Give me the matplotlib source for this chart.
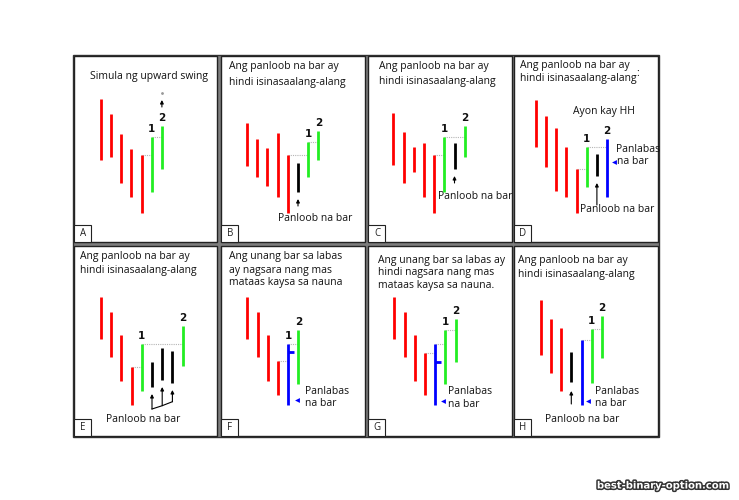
import matplotlib.pyplot as plt
from matplotlib.patches import Rectangle
import matplotlib.patheffects as pe

W, H = 739, 500
FONT = "Open Sans"

# ---- data: bar highs / lows per panel (price units), bar kinds ----
letters = ["A", "B", "C", "D", "E", "F", "G", "H"]

a_high = [143, 128, 108, 93, 87, 105, 116]
a_low = [82, 85, 59, 45, 29, 50, 73]
a_kind = "rrrrrgg"

b_high = [119, 103, 94, 109, 87, 79, 100, 111]
b_low = [76, 65, 56, 45, 29, 50, 65, 82]
b_kind = "rrrrrkgg"

c_high = [129, 110, 95, 99, 87, 105, 99, 116]
c_low = [77, 59, 70, 45, 29, 50, 73, 85]
c_kind = "rrrrrgkg"

d_high = [142, 126, 114, 95, 73, 95, 88, 103]
d_low = [95, 75, 51, 45, 29, 55, 66, 45]
d_kind = "rrrrrgkb"

e_high = [139, 124, 101, 69, 92, 74, 88, 85, 110]
e_low = [97, 79, 55, 31, 45, 49, 56, 53, 70]
e_kind = "rrrrgkkkg"

f_high = [139, 124, 101, 75, 92, 106]
f_low = [97, 79, 55, 41, 31, 52]
f_kind = "rrrrbg"

g_high = [139, 124, 101, 83, 92, 106, 117]
g_low = [97, 79, 55, 41, 31, 52, 74]
g_kind = "rrrrbgg"

h_high = [136, 117, 108, 84, 96, 107, 120]
h_low = [81, 63, 45, 54, 31, 53, 78]
h_kind = "rrrkbgg"

HIGHS = [a_high, b_high, c_high, d_high, e_high, f_high, g_high, h_high]
LOWS = [a_low, b_low, c_low, d_low, e_low, f_low, g_low, h_low]
KINDS = [a_kind, b_kind, c_kind, d_kind, e_kind, f_kind, g_kind, h_kind]

# closing ticks of the outside (blue) bar: panel -> (bar, close)
closes = {5: (4, 84), 6: (4, 74)}
# dotted reference lines: from bar a's high to bar b
dotted = [[(4, 5), (5, 6)], [(4, 6), (6, 7)], [(4, 5), (5, 7)], [(4, 5), (5, 7)],
          [(3, 4), (4, 8)], [(3, 4), (4, 5)], [(3, 4), (4, 5), (5, 6)], [(4, 5), (5, 6)]]
# bars that carry the "1" and "2" labels
swing_labels = [(5, 6), (6, 7), (5, 7), (5, 7), (4, 8), (4, 5), (5, 6), (5, 6)]
# arrows under inside bars: (bar, gap below low, length) in price units
inside_arrows = {1: [(5, 7, 7)], 2: [(6, 7, 7)], 3: [(6, 7, 22)], 7: [(3, 9, 13)]}

COLORS = {"r": "#ff0000", "g": "#22ee22", "k": "#000000", "b": "#0000ff"}

# ---- layout ----
PANEL_LEFTS = [74, 221, 368, 514]
PANEL_RIGHTS = [217, 365, 512, 658]
ROW_TOPS = [56, 246]
ROW_BOTTOMS = [242, 436]
SLOT_PX = 10.2
FIRST_BAR_PX = [26.7, 26, 25.3, 21.7, 27, 26.3, 26.3, 26.7]

titles = [
    (149, 76.7, "Simula ng upward swing", "center"),
    (229, 67, "Ang panloob na bar ay", "left"),
    (229, 82, "hindi isinasaalang-alang", "left"),
    (379, 67, "Ang panloob na bar ay", "left"),
    (379, 81.7, "hindi isinasaalang-alang", "left"),
    (520, 65.7, "Ang panloob na bar ay", "left"),
    (520, 78.3, "hindi isinasaalang-alang", "left"),
    (637.7, 73, ":", "center"),
    (80, 256.7, "Ang panloob na bar ay", "left"),
    (80, 270, "hindi isinasaalang-alang", "left"),
    (229, 256.7, "Ang unang bar sa labas", "left"),
    (229, 270, "ay nagsara nang mas", "left"),
    (229, 282.7, "mataas kaysa sa nauna", "left"),
    (377.7, 260, "Ang unang bar sa labas ay", "left"),
    (377.7, 272.7, "hindi nagsara nang mas", "left"),
    (377.7, 285.7, "mataas kaysa sa nauna.", "left"),
    (518.3, 261, "Ang panloob na bar ay", "left"),
    (518.3, 274.3, "hindi isinasaalang-alang", "left"),
]
notes = [
    (314.7, 218.3, "Panloob na bar", "center"),
    (475, 196.7, "Panloob na bar", "center"),
    (604.3, 111.7, "Ayon kay HH", "center"),
    (616, 149, "Panlabas", "left"),
    (617, 161, "na bar", "left"),
    (616.7, 210, "Panloob na bar", "center"),
    (143.3, 419, "Panloob na bar", "center"),
    (305.3, 391.7, "Panlabas", "left"),
    (305.3, 403.3, "na bar", "left"),
    (448.3, 391.7, "Panlabas", "left"),
    (448.3, 404.3, "na bar", "left"),
    (595.3, 391, "Panlabas", "left"),
    (595.3, 403.7, "na bar", "left"),
    (581.7, 419, "Panloob na bar", "center"),
]
blue_marks = [(614.3, 162), (296.7, 400.3), (443, 400.7), (588, 400.7)]

fig = plt.figure(figsize=(W / 100, H / 100), dpi=100)
fig.patch.set_facecolor("white")
bg = fig.add_axes([0, 0, 1, 1])
bg.set_xlim(0, W)
bg.set_ylim(H, 0)
bg.set_axis_off()

bg.add_patch(Rectangle((73, 55), 586, 382, fc="#7d7d7d", ec="#333333", lw=1))
for row in range(2):
    for col in range(4):
        l, r = PANEL_LEFTS[col], PANEL_RIGHTS[col]
        t, b = ROW_TOPS[row], ROW_BOTTOMS[row]
        bg.add_patch(Rectangle((l, t), r - l, b - t, fc="white", ec="#222222", lw=1))
        bg.add_patch(Rectangle((l, b - 17), 17, 17, fc="white", ec="#222222", lw=0.8))
        bg.text(l + 9, b - 8, letters[row * 4 + col], ha="center", va="center",
                fontsize=7, family=FONT, color="#222222")

for x, y, s, ha in titles + notes:
    bg.text(x, y, s, ha=ha, va="center", fontsize=7.5, family=FONT, color="#111111")
for x, y in blue_marks:
    bg.plot(x, y, marker="<", ms=3.5, color="#0000ff", mec="none")

for k in range(8):
    row, col = divmod(k, 4)
    l, r = PANEL_LEFTS[col], PANEL_RIGHTS[col]
    t, b = ROW_TOPS[row], ROW_BOTTOMS[row]
    ax = fig.add_axes([l / W, 1 - b / H, (r - l) / W, (b - t) / H])
    ax.set_axis_off()
    ax.patch.set_alpha(0)
    off = FIRST_BAR_PX[k]
    ax.set_xlim(-off / SLOT_PX, (r - l - off) / SLOT_PX)
    ax.set_ylim(0, b - t)

    hi, lo, kind = HIGHS[k], LOWS[k], KINDS[k]
    for a, c in dotted[k]:
        ax.hlines(hi[a], a, c, colors="#b5b5b5", lw=0.8, linestyles=(0, (1, 1)))
    ax.vlines(range(len(hi)), lo, hi, colors=[COLORS[c] for c in kind], lw=2.0)
    if k in closes:
        i, cl = closes[k]
        ax.hlines(cl, i, i + 0.6, colors=COLORS["b"], lw=2.0)

    for num, i in zip(("1", "2"), swing_labels[k]):
        ax.annotate(num, (i, hi[i]), xytext=(0, 6), textcoords="offset points",
                    ha="center", va="center", fontsize=7.5, fontweight="bold",
                    family="DejaVu Sans", color="#111111")

    for i, gap, length in inside_arrows.get(k, []):
        tip = lo[i] - gap
        ax.annotate("", (i, tip), xytext=(i, tip - length),
                    arrowprops=dict(arrowstyle="-|>", lw=0.8, color="black",
                                    mutation_scale=5, shrinkA=0, shrinkB=0))

    if k == 0:
        top = hi[6]
        ax.annotate("", (6, top + 26), xytext=(6, top + 19),
                    arrowprops=dict(arrowstyle="-|>", lw=0.8, color="black",
                                    mutation_scale=5, shrinkA=0, shrinkB=0))
        ax.plot(6, top + 33, marker="o", ms=1, color="#999999")

    if k == 4:
        bases = [27, 30.3, 34.3]
        bars = [5, 6, 7]
        ax.plot(bars, bases, color="black", lw=0.8)
        for i, base in zip(bars, bases):
            ax.annotate("", (i, lo[i] - 7), xytext=(i, base),
                        arrowprops=dict(arrowstyle="-|>", lw=0.8, color="black",
                                        mutation_scale=5, shrinkA=0, shrinkB=0))

bg.text(663, 485.5, "best-binary-option.com", ha="center", va="center",
        fontsize=7.2, fontweight="bold", family="DejaVu Sans", color="white",
        path_effects=[pe.withStroke(linewidth=2.2, foreground="#333333")])

fig.savefig("out.png", dpi=100, facecolor="white")
